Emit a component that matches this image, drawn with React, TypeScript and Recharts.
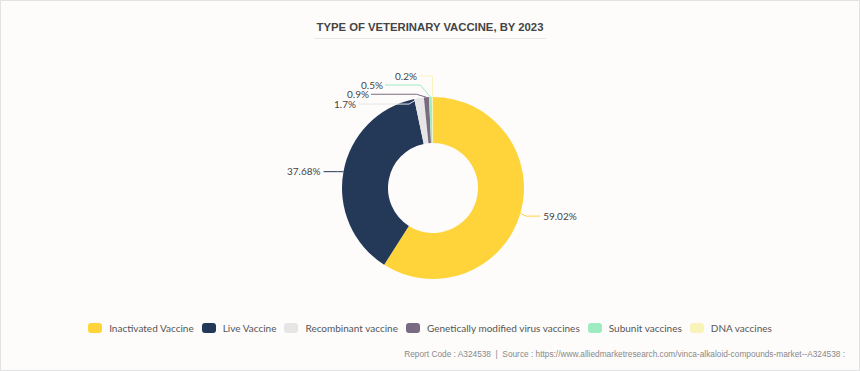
import React from 'react';
import { PieChart, Pie, Cell, Legend } from 'recharts';

const categories = [
  'Inactivated Vaccine',
  'Live Vaccine',
  'Recombinant vaccine',
  'Genetically modified virus vaccines',
  'Subunit vaccines',
  'DNA vaccines',
];
const shares = [59.02, 37.68, 1.7, 0.9, 0.5, 0.2];
const labels = ['59.02%', '37.68%', '1.7%', '0.9%', '0.5%', '0.2%'];
const COLORS = ['#FFD43B', '#243858', '#E6E6E6', '#7A6A82', '#9FEBC2', '#F8F3B9'];

// small slices near the top get stacked labels (like echarts' overlap avoidance)
const STACK_STEP = 9;
const STACK_TEXT_END = [0, 0, 356, 369, 383, 417];

const data = categories.map((name, i) => ({ name, value: shares[i] }));
const RAD = Math.PI / 180;
const FONT = 'Lato, "Open Sans", sans-serif';

function SliceLabel(props: any) {
  const { cx, cy, midAngle, outerRadius, index } = props;
  const ax = cx + outerRadius * Math.cos(-midAngle * RAD);
  const ay = cy + outerRadius * Math.sin(-midAngle * RAD);
  const color = COLORS[index];

  if (index < 2) {
    const right = ax > cx;
    const ex = cx + (outerRadius + 6) * Math.cos(-midAngle * RAD);
    const ey = cy + (outerRadius + 6) * Math.sin(-midAngle * RAD) + 1;
    const tx = ex + (right ? 14 : -14);
    return (
      <g>
        <polyline points={`${ax},${ay} ${ex},${ey} ${tx},${ey}`} fill="none" stroke={color} strokeWidth={1} />
        <text x={tx + (right ? 3 : -3)} y={ey} dy={3.5} textAnchor={right ? 'start' : 'end'} fontSize={10} fill="#444" fontFamily={FONT}>
          {labels[index]}
        </text>
      </g>
    );
  }

  const ly = ay + 6 - (index - 2) * STACK_STEP;
  const textEnd = STACK_TEXT_END[index] - 1;
  const elbowX = index === 5 ? ax : ax - 10;
  return (
    <g>
      <polyline points={`${ax},${ay} ${elbowX},${ly} ${textEnd + 2},${ly}`} fill="none" stroke={color} strokeWidth={1} />
      <text x={textEnd} y={ly} dy={3.5} textAnchor="end" fontSize={10} fill="#444" fontFamily={FONT}>
        {labels[index]}
      </text>
    </g>
  );
}

function LegendContent() {
  return (
    <div style={{ display: 'flex', justifyContent: 'center', gap: 8, fontFamily: FONT, fontSize: 10, color: '#555' }}>
      {categories.map((c, i) => (
        <div key={c} style={{ display: 'flex', alignItems: 'center' }}>
          <span style={{ width: 14, height: 10, borderRadius: 3, background: COLORS[i], marginRight: 7, display: 'inline-block' }} />
          <span>{c}</span>
        </div>
      ))}
    </div>
  );
}

export default function App() {
  return (
    <div
      style={{
        position: 'absolute',
        left: 0,
        top: 0,
        width: 860,
        height: 371,
        boxSizing: 'border-box',
        border: '1px solid #E2E2E2',
        background: '#FDFCFB',
      }}
    >
      <div
        style={{
          position: 'absolute',
          left: 0,
          right: 0,
          top: 20,
          textAlign: 'center',
          fontFamily: '"Liberation Sans", Arial, sans-serif',
          fontWeight: 700,
          fontSize: 11.3,
          color: '#444',
        }}
      >
        <span style={{ display: 'inline-block', paddingBottom: 5, borderBottom: '1px solid #E8E8E8', paddingLeft: 3, paddingRight: 3 }}>
          TYPE OF VETERINARY VACCINE, BY 2023
        </span>
      </div>
      <PieChart
        width={858}
        height={369}
        margin={{ top: 0, right: 0, bottom: 0, left: 0 }}
        style={{ position: 'absolute', left: 0, top: 0 }}
      >
        <Pie
          data={data}
          dataKey="value"
          nameKey="name"
          cx={432}
          cy={187}
          innerRadius={45}
          outerRadius={91}
          startAngle={90}
          endAngle={-270}
          stroke="none"
          label={SliceLabel}
          labelLine={false}
          isAnimationActive={false}
        >
          {data.map((entry, index) => (
            <Cell key={`cell-${index}`} fill={COLORS[index]} />
          ))}
        </Pie>
        <Legend content={<LegendContent />} wrapperStyle={{ top: 321, left: 0, width: 858 }} />
      </PieChart>
      <div
        style={{
          position: 'absolute',
          right: 14,
          top: 348,
          fontFamily: '"Liberation Sans", Arial, sans-serif',
          fontSize: 8.3,
          color: '#888',
        }}
      >
        Report Code : A324538 &nbsp;|&nbsp; Source : https://www.alliedmarketresearch.com/vinca-alkaloid-compounds-market--A324538 :
      </div>
    </div>
  );
}
